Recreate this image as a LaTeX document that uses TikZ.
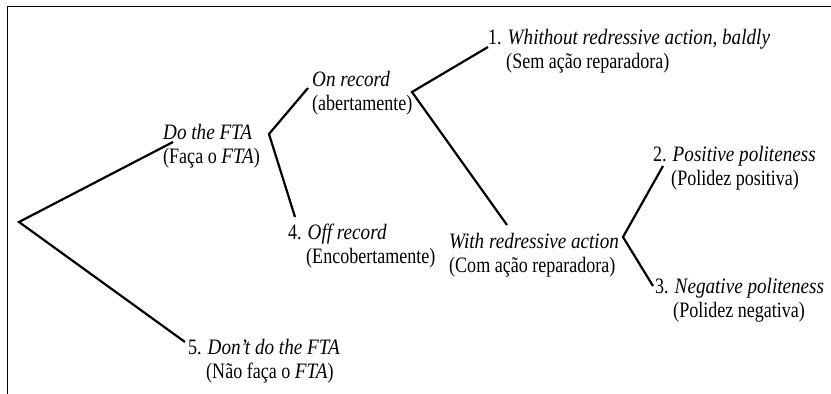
\documentclass[tikz,border=0pt]{standalone}
\usepackage{fontspec}
\setmainfont{Liberation Serif}[FakeStretch=0.82,ItalicFeatures={FakeStretch=0.87}]
\begin{document}
\begin{tikzpicture}[x=1pt,y=-1pt,
        txt/.style={inner sep=0pt,anchor=base west,align=left,
            font=\fontsize{22}{24}\selectfont},
        br/.style={line width=2.2pt}]
                \useasboundingbox (0,0) rectangle (831,394);
                %FRAME
                \draw[line width=1pt] (831,6) -- (7,6) -- (7,394);

                %NODE (base = last line)
                \node[txt] (do)   at (163,163) {\textit{Do the FTA}\\(Faça o \textit{FTA})};
                \node[txt] (on)   at (312,110) {\textit{On record}\\(abertamente)};
                \node[txt] (one)  at (488,68)  {1. \textit{Whithout redressive action, baldly}\\\hphantom{1.\ }(Sem ação reparadora)};
                \node[txt] (with) at (449,272) {\textit{With redressive action}\\(Com ação reparadora)};
                \node[txt] (two)  at (653,185) {2. \textit{Positive politeness}\\\hphantom{2.\ }(Polidez positiva)};
                \node[txt] (three) at (655,317) {3. \textit{Negative politeness}\\\hphantom{3.\ }(Polidez negativa)};
                \node[txt] (four) at (288,263) {4. \textit{Off record}\\\hphantom{4.\ }(Encobertamente)};
                \node[txt] (five) at (188,378) {5. \textit{Don't do the FTA}\\\hphantom{5.\ }(Não faça o \textit{FTA})};

                \coordinate (r) at (19,222);
                \coordinate (a) at (269,134);
                \coordinate (b) at (412,92);
                \coordinate (c) at (623,237);

                %EDGE
                \draw[br] ([shift={(10,-21)}]do.base west) -- (r) -- ([shift={(-3,-36)}]five.base west);
                \draw[br] ([shift={(-4,-22)}]on.base west) -- (a) -- ([shift={(7,-46)}]four.base west);
                \draw[br] ([shift={(0,-21)}]one.base west) -- (b) -- ([shift={(58,-47)}]with.base west);
                \draw[br] ([shift={(10,-19)}]two.base west) -- (c) -- ([shift={(-2,-31)}]three.base west);
            \end{tikzpicture}
\end{document}
